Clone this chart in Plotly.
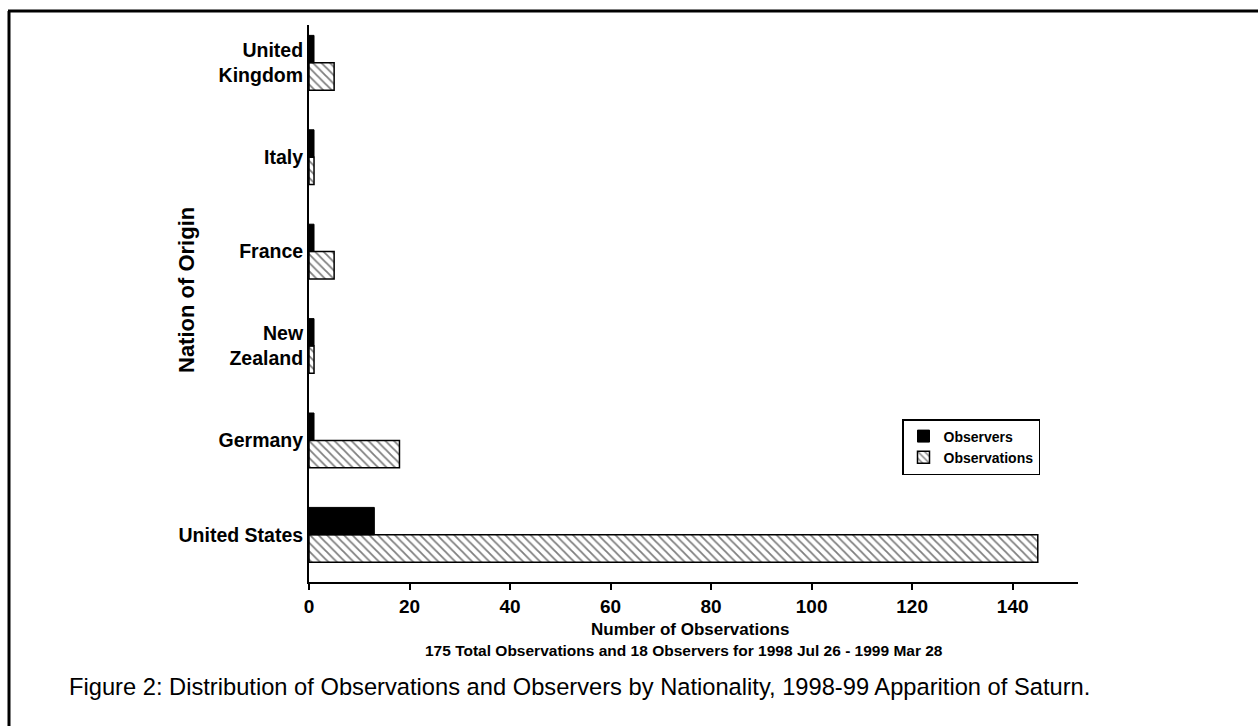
import plotly.graph_objects as go

countries = ["United States", "Germany", "New<br>Zealand", "France", "Italy", "United<br>Kingdom"]
observers = [13, 1, 1, 1, 1, 1]
observations = [145, 18, 1, 5, 1, 5]
x_ticks = [0, 20, 40, 60, 80, 100, 120, 140]

W, H = 1258, 726
L, R, T, B = 309, 1078, 25, 582
pw, ph = R - L, B - T

def px(x):
    return (x - L) / pw

def py(y):
    return (B - y) / ph

FAM = "Liberation Sans, Arial, Helvetica, sans-serif"

fig = go.Figure()
fig.add_trace(go.Bar(
    y=countries, x=observations, orientation="h", name="Observations",
    marker=dict(color="white", line=dict(color="black", width=1.5),
                pattern=dict(shape="\\", fgcolor="black", bgcolor="white", size=6, solidity=0.3)),
    legendrank=2,
))
fig.add_trace(go.Bar(
    y=countries, x=observers, orientation="h", name="Observers",
    marker=dict(color="black", line=dict(color="black", width=1)),
    legendrank=1,
))

bold = dict(family=FAM, color="black", weight="bold")

fig.update_layout(
    width=W, height=H,
    margin=dict(l=L, r=W - R, t=T, b=H - B),
    paper_bgcolor="white", plot_bgcolor="white",
    barmode="group", bargap=0.42, bargroupgap=0,
    showlegend=True,
    legend=dict(x=px(902), y=py(419), xanchor="left", yanchor="top",
                bordercolor="black", borderwidth=1.5, bgcolor="white",
                font=dict(size=14, **bold), tracegroupgap=0,
                itemwidth=30),
    xaxis=dict(range=[0, 153], tickvals=x_ticks, ticks="outside", ticklen=6,
               tickwidth=2, tickcolor="black", showline=True, linecolor="black",
               linewidth=2, showgrid=False, zeroline=False,
               tickfont=dict(size=19, **bold)),
    yaxis=dict(type="category", categoryorder="array", categoryarray=countries,
               range=[-0.5, 5.4], showline=True, linecolor="black", linewidth=2,
               ticks="", showgrid=False, zeroline=False,
               tickfont=dict(size=19.5, **bold)),
    font=dict(family=FAM, color="black"),
)

fig.add_annotation(text="Number of Observations",
                   xref="paper", yref="paper", x=px(690), y=py(629), xanchor="center", yanchor="middle",
                   showarrow=False, font=dict(size=17, **bold))
fig.add_annotation(text="Nation of Origin", textangle=-90,
                   xref="paper", yref="paper", x=px(186), y=py(290), xanchor="center", yanchor="middle",
                   showarrow=False, font=dict(size=22, **bold))
fig.add_annotation(text="175 Total Observations and 18 Observers for 1998 Jul 26 - 1999 Mar 28",
                   xref="paper", yref="paper", x=px(684), y=py(650), xanchor="center", yanchor="middle",
                   showarrow=False, font=dict(size=15.5, **bold))
fig.add_annotation(text="Figure 2: Distribution of Observations and Observers by Nationality, 1998-99 Apparition of Saturn.",
                   xref="paper", yref="paper", x=px(67), y=py(687), xanchor="left", yanchor="middle",
                   showarrow=False, font=dict(size=23.7, family=FAM, color="black"))

# outer frame (left and top edges)
fig.add_shape(type="line", xref="paper", yref="paper", x0=px(9), x1=px(9), y0=py(11), y1=py(740),
              line=dict(color="black", width=3))
fig.add_shape(type="line", xref="paper", yref="paper", x0=px(8), x1=px(1270), y0=py(11), y1=py(11),
              line=dict(color="black", width=3))

fig.write_html("out.html")
